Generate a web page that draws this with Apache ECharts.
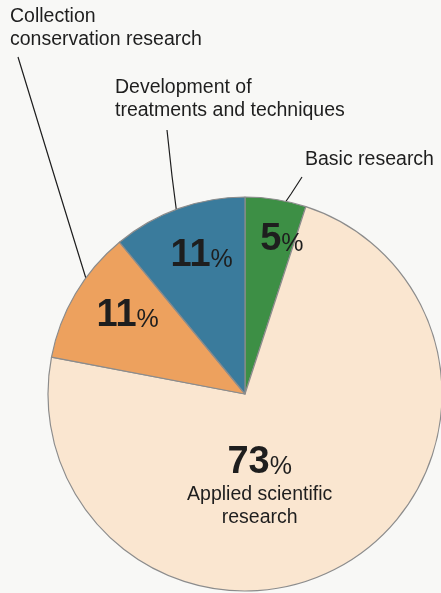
<!DOCTYPE html>
<html>
<head>
<meta charset="utf-8">
<script src="https://cdn.jsdelivr.net/npm/echarts@6/dist/echarts.min.js"></script>
<style>
  html, body { margin: 0; padding: 0; background: #f8f8f6; }
  #chart { width: 441px; height: 593px; }
</style>
</head>
<body>
<div id="chart"></div>
<script>
// clockwise from 12 o'clock
const categories = ['Basic research', 'Applied scientific\nresearch', 'Collection\nconservation research', 'Development of\ntreatments and techniques'];
const shares = [5, 73, 11, 11];
const colors = ['#3d8f45', '#fae6d0', '#eda15e', '#3a7b9c'];

// nudges of the percentage labels away from the default inside spot
const pctShift = [[21, -54], [-37, 4], [-30, -27], [-9, -43]];
// where the outside category names sit, and their leader lines
const nameBox = [[305, 148], null, [10, 5], [115, 76]];
const leader = [
  [[302, 177], [291, 194], [280, 210]],
  null,
  [[18, 57], [55, 178], [92, 298]],
  [[167, 130], [172, 176], [178, 223]]
];

const FONT = '"Liberation Sans", Arial, sans-serif';
const NUMFONT = '"Liberation Sans Narrow", "Liberation Sans", Arial, sans-serif';

const chart = echarts.init(document.getElementById('chart'));

const pieData = categories.map((c, i) => ({
  name: c,
  value: shares[i],
  itemStyle: { color: colors[i] }
}));

chart.setOption({
  backgroundColor: '#f8f8f6',
  animation: false,
  series: [
    {
      type: 'pie',
      center: [245, 394],
      radius: [0, 197],
      startAngle: 90,
      clockwise: true,
      silent: true,
      itemStyle: { borderColor: '#8c8c8c', borderWidth: 1.2 },
      data: pieData,
      label: {
        show: true,
        position: 'inside',
        formatter: p => {
          let s = '{b|' + p.value + '}{p|%}';
          if (p.dataIndex === 1) {
            s += '\n{n|Applied scientific}\n{n|research}';
          }
          return s;
        },
        rich: {
          b: { fontFamily: NUMFONT, fontWeight: 'bold', fontSize: 38, color: '#1e1e1e', lineHeight: 42 },
          p: { fontFamily: FONT, fontSize: 25, color: '#1e1e1e', lineHeight: 24, verticalAlign: 'bottom', padding: [0, 0, 4, 0] },
          n: { fontFamily: FONT, fontSize: 19.5, color: '#1e1e1e', lineHeight: 23, align: 'center' }
        }
      },
      labelLine: { show: false },
      labelLayout: p => ({ dx: pctShift[p.dataIndex][0], dy: pctShift[p.dataIndex][1] })
    },
    {
      // transparent copy carrying the outside category names
      type: 'pie',
      center: [245, 394],
      radius: [0, 197],
      startAngle: 90,
      clockwise: true,
      silent: true,
      itemStyle: { color: 'rgba(0,0,0,0)' },
      data: pieData.map((d, i) => ({
        name: d.name,
        value: d.value,
        label: { show: i !== 1 },
        labelLine: { show: i !== 1 }
      })),
      label: {
        position: 'outside',
        formatter: '{b}',
        fontFamily: FONT,
        fontSize: 19.5,
        lineHeight: 23,
        color: '#1e1e1e',
        align: 'left',
        overflow: 'none',
        width: 400,
        alignTo: 'none',
        bleedMargin: 0
      },
      labelLine: {
        show: true,
        lineStyle: { color: '#1e1e1e', width: 1.2 }
      },
      labelLayout: p => {
        const b = nameBox[p.dataIndex];
        if (!b) return {};
        return {
          x: b[0],
          y: b[1],
          align: 'left',
          verticalAlign: 'top',
          labelLinePoints: leader[p.dataIndex]
        };
      }
    }
  ]
});
</script>
</body>
</html>
